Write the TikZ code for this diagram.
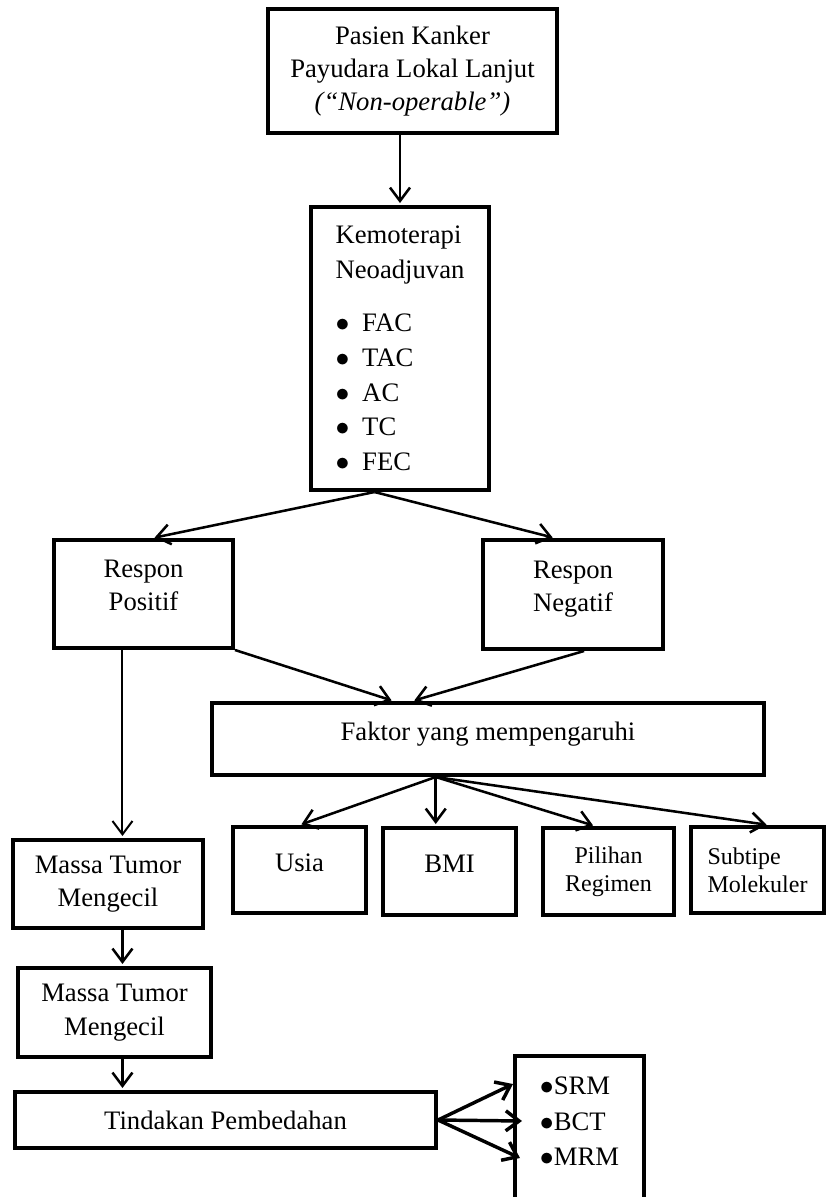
\documentclass[tikz,border=0pt]{standalone}
\usepackage{fontspec}
\setmainfont{Liberation Serif}
\usetikzlibrary{arrows.meta,calc}

\begin{document}
\begin{tikzpicture}[x=0.75pt,y=0.75pt,yscale=-1,xscale=1,
    kotak/.style={draw, line width=3pt, align=center, inner sep=2pt, font=\fontsize{20}{25}\selectfont},
    sz/.style 2 args={minimum width=0.75*#1pt, minimum height=0.75*#2pt},
    kecil/.style={font=\fontsize{18}{21}\selectfont},
    panah/.style={line width=1.9pt, -{Straight Barb[length=10pt,width=15pt]}, shorten >=1.5pt},
    panahtebal/.style={line width=2.6pt, -{Straight Barb[length=10pt,width=15pt]}}]
\useasboundingbox (0,0) rectangle (827,1197);
\clip (0,0) rectangle (827,1197);

\node [kotak, sz={289}{124}] (pasien) at (412.5,71) {Pasien Kanker\\Payudara Lokal Lanjut\\\textit{(“Non-operable”)}};
\node [kotak, sz={178}{283}, align=left, font=\fontsize{20}{26}\selectfont] (kemo) at (400,348.5) {Kemoterapi\\Neoadjuvan\\[14pt]\makebox[20pt][l]{$\bullet$}FAC\\\makebox[20pt][l]{$\bullet$}TAC\\\makebox[20pt][l]{$\bullet$}AC\\\makebox[20pt][l]{$\bullet$}TC\\\makebox[20pt][l]{$\bullet$}FEC};
\node [kotak, sz={179}{108}, text depth=12.8pt] (positif) at (143.5,594) {Respon\\Positif};
\node [kotak, sz={180}{109}, text depth=12.8pt] (negatif) at (573,594.5) {Respon\\Negatif};
\node [kotak, sz={552}{72}, text depth=11pt] (faktor) at (488,739) {Faktor yang mempengaruhi};
\node [kotak, sz={133}{86}, text depth=11pt] (usia) at (299.5,870) {Usia};
\node [kotak, sz={133}{87}, text depth=11pt] (bmi) at (449.5,871.5) {BMI};
\node [kotak, kecil, sz={131}{87}] (regimen) at (608.5,871.5) {Pilihan\\Regimen};
\node [kotak, kecil, sz={133}{86}, align=left] (subtipe) at (757.5,870) {Subtipe\\Molekuler};
\node [kotak, sz={190}{88}] (massa1) at (108,884) {Massa Tumor\\Mengecil};
\node [kotak, sz={193}{89}] (massa2) at (114.5,1012.5) {Massa Tumor\\Mengecil};
\node [kotak, sz={421}{56}] (tindakan) at (225.5,1120) {Tindakan Pembedahan};
\node [kotak, anchor=north, minimum width=0.75*129pt, inner ysep=15.75pt, text depth=45pt, align=left, font=\fontsize{20}{26.5}\selectfont] (hasil) at (579.5,1054) {$\bullet$SRM\\$\bullet$BCT\\$\bullet$MRM};

\coordinate (kemo-out) at ($(kemo.south west)!0.36!(kemo.south east)$);
\coordinate (positif-out) at ($(positif.south west)!0.385!(positif.south east)$);
\coordinate (faktor-out) at ($(faktor.south west)!0.406!(faktor.south east)$);
\coordinate (ke-srm) at (513,1084);
\coordinate (ke-bct) at (522,1121);
\coordinate (ke-mrm) at (520,1158);

\draw [panah] (pasien.south -| kemo.north) -- (kemo.north);
\draw [panah] (kemo-out) -- ($(positif.north west)!0.55!(positif.north east)$);
\draw [panah] (kemo-out) -- ($(negatif.north west)!0.4!(negatif.north east)$);
\draw [panah] (positif.south east) -- ($(faktor.north west)!0.33!(faktor.north east)$);
\draw [panah] ($(negatif.south west)!0.56!(negatif.south east)$) -- ($(faktor.north west)!0.364!(faktor.north east)$);
\draw [panah] (faktor-out) -- (usia.north);
\draw [panah] (faktor-out) -- (faktor-out |- bmi.north);
\draw [panah] (faktor-out) -- ($(regimen.north west)!0.4!(regimen.north east)$);
\draw [panah] (faktor-out) -- ($(subtipe.north west)!0.58!(subtipe.north east)$);
\draw [panah, line width=1.5pt] (positif-out) -- (positif-out |- massa1.north);
\draw [panah] (positif-out |- massa1.south) -- (positif-out |- massa2.north);
\draw [panah] (positif-out |- massa2.south) -- (positif-out |- tindakan.north);
\draw [panahtebal] (tindakan.east) -- (ke-srm);
\draw [panahtebal] (tindakan.east) -- (ke-bct);
\draw [panahtebal] (tindakan.east) -- (ke-mrm);
\end{tikzpicture}
\end{document}
